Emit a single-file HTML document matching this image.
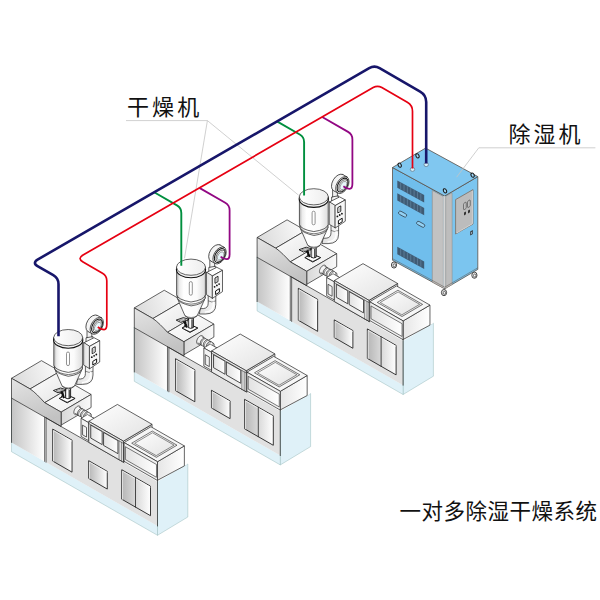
<!DOCTYPE html>
<html lang="zh-CN"><head><meta charset="utf-8"><title>一对多除湿干燥系统</title>
<style>
html,body{margin:0;padding:0;background:#fff;}
body{width:600px;height:600px;overflow:hidden;position:relative;font-family:"Liberation Sans","Noto Sans CJK SC",sans-serif;}
svg{position:absolute;left:0;top:0;display:block;}
.lbl{position:absolute;white-space:nowrap;color:#111;line-height:1;}
</style></head><body>
<svg width="600" height="600" viewBox="0 0 600 600">
<defs>
<linearGradient id="gTop" x1="0" y1="0" x2="1" y2="1"><stop offset="0" stop-color="#ffffff"/><stop offset="1" stop-color="#e2e2e2"/></linearGradient>
<linearGradient id="gTop2" x1="0" y1="0" x2="1" y2="1"><stop offset="0" stop-color="#ffffff"/><stop offset="1" stop-color="#ececec"/></linearGradient>
<linearGradient id="gSide" x1="0" y1="0" x2="1" y2="0"><stop offset="0" stop-color="#d8d8d8"/><stop offset="1" stop-color="#fafafa"/></linearGradient>
<linearGradient id="gSide2" x1="0" y1="0" x2="1" y2="0"><stop offset="0" stop-color="#e6e6e6"/><stop offset="1" stop-color="#ffffff"/></linearGradient>
<linearGradient id="gPanel" x1="0" y1="0" x2="1" y2="0"><stop offset="0" stop-color="#c4c4c4"/><stop offset="1" stop-color="#ffffff"/></linearGradient>
<linearGradient id="gBand" x1="0" y1="0" x2="0.35" y2="1"><stop offset="0" stop-color="#e4e4e4"/><stop offset="1" stop-color="#c2c2c2"/></linearGradient>
<linearGradient id="gWin" x1="0" y1="0" x2="1" y2="0"><stop offset="0" stop-color="#b6b6b6"/><stop offset="1" stop-color="#ffffff"/></linearGradient>
<linearGradient id="gWin2" x1="0" y1="0" x2="1" y2="0"><stop offset="0" stop-color="#e2e2e2"/><stop offset="1" stop-color="#ffffff"/></linearGradient>
<linearGradient id="gBody" gradientUnits="userSpaceOnUse" x1="53.8" y1="0" x2="82.6" y2="0"><stop offset="0" stop-color="#b4b4b4"/><stop offset="0.1" stop-color="#ececec"/><stop offset="0.25" stop-color="#ffffff"/><stop offset="0.7" stop-color="#fbfbfb"/><stop offset="1" stop-color="#dcdcdc"/></linearGradient>
<linearGradient id="gLid" x1="0" y1="0" x2="1" y2="0"><stop offset="0" stop-color="#ffffff"/><stop offset="1" stop-color="#ededed"/></linearGradient>
<linearGradient id="gTube" x1="0" y1="0" x2="1" y2="0"><stop offset="0" stop-color="#aaa"/><stop offset="0.4" stop-color="#fff"/><stop offset="1" stop-color="#ccc"/></linearGradient>
<linearGradient id="gPipe" x1="0" y1="0" x2="1" y2="0"><stop offset="0" stop-color="#e0e0e0"/><stop offset="1" stop-color="#f8f8f8"/></linearGradient>
<linearGradient id="gBoxL" x1="0" y1="0" x2="1" y2="0"><stop offset="0" stop-color="#e2e2e2"/><stop offset="1" stop-color="#f4f4f4"/></linearGradient>
<linearGradient id="gBar" x1="0" y1="0" x2="0.5" y2="1"><stop offset="0" stop-color="#ffffff"/><stop offset="1" stop-color="#cfcfcf"/></linearGradient>
<linearGradient id="gTopL" x1="0" y1="0.6" x2="1" y2="0.4"><stop offset="0" stop-color="#dadada"/><stop offset="1" stop-color="#fbfbfb"/></linearGradient>
</defs>

<g><polygon points="403.11,339.51 433.4,323.2 433.4,376.2 403.11,394.51" fill="#dff1f8" stroke="#9bb" stroke-width="0.5" stroke-linejoin="round" />
<polygon points="304.99,284.72 334.96,267.08 433.08,323.26 403.11,340.91" fill="#fff" stroke="none" stroke-width="0.7" stroke-linejoin="round" />
<polygon points="257.1,237.5 287.06,219.85 305.68,230.52 275.72,248.16" fill="url(#gTopL)" stroke="#222" stroke-width="0.7" stroke-linejoin="round" />
<polygon points="275.72,248.16 305.68,230.52 320.23,244.25 290.27,261.89" fill="url(#gTop)" stroke="#222" stroke-width="0.7" stroke-linejoin="round" />
<polygon points="290.27,261.89 320.23,244.25 336.69,253.67 306.72,271.32" fill="url(#gTop2)" stroke="#222" stroke-width="0.7" stroke-linejoin="round" />
<polygon points="306.72,271.32 336.69,253.67 336.69,266.67 306.72,284.32" fill="url(#gSide)" stroke="#222" stroke-width="0.7" stroke-linejoin="round" />
<polygon points="326.21,267.54 326.12,266.72 325.87,266.04 325.47,265.54 324.94,265.24 324.3,265.15 323.58,265.28 322.83,265.63 322.08,266.17 321.37,266.88 320.73,267.72 320.19,268.65 319.79,269.63 319.54,270.6 319.45,271.52 319.54,272.34 319.79,273.01 320.19,273.52 320.73,273.82 321.37,273.91 322.08,273.77 322.83,273.43 323.58,272.89 324.3,272.18 324.94,271.34 325.47,270.41 325.87,269.43 326.12,268.46" fill="#f6f6f6" stroke="#222" stroke-width="0.7" stroke-linejoin="round" />
<polygon points="330.75,275.61 350.58,286.97 352.07,284.72 332.24,273.36" fill="#eee" stroke="none" stroke-width="0.7" stroke-linejoin="round" />
<polyline points="330.75,275.61 350.58,286.97" fill="none" stroke="#222" stroke-width="0.7" stroke-linejoin="round" stroke-linecap="round" />
<polyline points="332.24,273.36 352.07,284.72" fill="none" stroke="#222" stroke-width="0.7" stroke-linejoin="round" stroke-linecap="round" />
<polygon points="352.28,285.28 352.25,285.05 352.18,284.86 352.07,284.72 351.92,284.63 351.74,284.61 351.54,284.65 351.32,284.74 351.11,284.9 350.91,285.1 350.73,285.33 350.58,285.6 350.47,285.87 350.39,286.15 350.37,286.41 350.39,286.64 350.47,286.83 350.58,286.97 350.73,287.05 350.91,287.08 351.11,287.04 351.32,286.94 351.54,286.79 351.74,286.59 351.92,286.35 352.07,286.09 352.18,285.82 352.25,285.54" fill="#eee" stroke="#222" stroke-width="0.7" stroke-linejoin="round" />
<polygon points="320.8,272.6 332.4,279.24 336.47,273.11 324.86,266.46" fill="url(#gBar)" stroke="none" stroke-width="0.7" stroke-linejoin="round" />
<polyline points="320.8,272.6 332.4,279.24" fill="none" stroke="#222" stroke-width="0.6" stroke-linejoin="round" stroke-linecap="round" />
<polyline points="324.86,266.46 336.47,273.11" fill="none" stroke="#222" stroke-width="0.6" stroke-linejoin="round" stroke-linecap="round" />
<polygon points="337.03,274.64 336.97,274.01 336.78,273.49 336.47,273.11 336.06,272.87 335.56,272.81 335.01,272.91 334.44,273.17 333.86,273.59 333.31,274.14 332.82,274.78 332.4,275.5 332.1,276.25 331.9,277 331.84,277.7 331.9,278.33 332.1,278.85 332.4,279.24 332.82,279.47 333.31,279.54 333.86,279.44 334.44,279.17 335.01,278.76 335.56,278.21 336.06,277.57 336.47,276.85 336.78,276.1 336.97,275.35" fill="url(#gBar)" stroke="#222" stroke-width="0.6" stroke-linejoin="round" />
<polygon points="328.76,269.66 328.69,268.98 328.48,268.41 328.15,267.99 327.7,267.74 327.17,267.67 326.58,267.78 325.95,268.06 325.32,268.51 324.73,269.11 324.19,269.81 323.75,270.58 323.41,271.4 323.21,272.21 323.13,272.97 323.21,273.65 323.41,274.22 323.75,274.64 324.19,274.89 324.73,274.96 325.32,274.85 325.95,274.56 326.58,274.11 327.17,273.52 327.7,272.82 328.15,272.04 328.48,271.23 328.69,270.42" fill="#e9e9e9" stroke="#111" stroke-width="0.7" stroke-linejoin="round" />
<polygon points="329.89,270.3 329.82,269.62 329.61,269.06 329.28,268.64 328.83,268.38 328.3,268.31 327.7,268.42 327.07,268.71 326.45,269.16 325.85,269.75 325.32,270.45 324.87,271.23 324.54,272.04 324.33,272.85 324.26,273.62 324.33,274.3 324.54,274.86 324.87,275.28 325.32,275.53 325.85,275.61 326.45,275.5 327.07,275.21 327.7,274.76 328.3,274.17 328.83,273.47 329.28,272.69 329.61,271.88 329.82,271.07" fill="#fafafa" stroke="#222" stroke-width="0.5" stroke-linejoin="round" />
<polygon points="331.71,271.34 331.64,270.66 331.43,270.1 331.09,269.68 330.65,269.43 330.11,269.35 329.52,269.46 328.89,269.75 328.27,270.2 327.67,270.79 327.14,271.49 326.69,272.27 326.36,273.08 326.15,273.89 326.08,274.66 326.15,275.34 326.36,275.9 326.69,276.32 327.14,276.57 327.67,276.65 328.27,276.54 328.89,276.25 329.52,275.8 330.11,275.21 330.65,274.51 331.09,273.73 331.43,272.92 331.64,272.11" fill="#e9e9e9" stroke="#111" stroke-width="0.7" stroke-linejoin="round" />
<polygon points="332.83,271.99 332.76,271.31 332.56,270.74 332.22,270.32 331.77,270.07 331.24,270 330.65,270.11 330.02,270.4 329.39,270.85 328.8,271.44 328.26,272.14 327.82,272.91 327.48,273.73 327.28,274.54 327.2,275.3 327.28,275.98 327.48,276.55 327.82,276.97 328.26,277.22 328.8,277.29 329.39,277.18 330.02,276.9 330.65,276.44 331.24,275.85 331.77,275.15 332.22,274.38 332.56,273.56 332.76,272.75" fill="#fafafa" stroke="#222" stroke-width="0.5" stroke-linejoin="round" />
<polygon points="334.65,273.03 334.58,272.35 334.37,271.78 334.04,271.36 333.59,271.11 333.06,271.04 332.46,271.15 331.84,271.44 331.21,271.89 330.62,272.48 330.08,273.18 329.64,273.96 329.3,274.77 329.09,275.58 329.02,276.34 329.09,277.03 329.3,277.59 329.64,278.01 330.08,278.26 330.62,278.33 331.21,278.22 331.84,277.94 332.46,277.49 333.06,276.9 333.59,276.19 334.04,275.42 334.37,274.6 334.58,273.79" fill="#e9e9e9" stroke="#111" stroke-width="0.7" stroke-linejoin="round" />
<polygon points="335.78,273.67 335.71,272.99 335.5,272.43 335.16,272.01 334.72,271.76 334.19,271.68 333.59,271.79 332.96,272.08 332.34,272.53 331.74,273.12 331.21,273.82 330.76,274.6 330.43,275.41 330.22,276.22 330.15,276.99 330.22,277.67 330.43,278.23 330.76,278.65 331.21,278.91 331.74,278.98 332.34,278.87 332.96,278.58 333.59,278.13 334.19,277.54 334.72,276.84 335.16,276.06 335.5,275.25 335.71,274.44" fill="#fafafa" stroke="#222" stroke-width="0.5" stroke-linejoin="round" />
<polygon points="257.1,301.6 403.11,385.21 403.11,394.51 257.1,310.9" fill="#dff1f8" stroke="none" stroke-width="0.7" stroke-linejoin="round" />
<polygon points="291.65,277.09 403.11,340.91 403.11,385.21 291.65,321.39" fill="#e1e1e1" stroke="none" stroke-width="0.7" stroke-linejoin="round" />
<polygon points="257.1,257.3 290.27,276.29 290.27,320.59 257.1,301.6" fill="url(#gPanel)" stroke="none" stroke-width="0.7" stroke-linejoin="round" />
<polygon points="257.1,237.5 275.72,248.16 279.36,250.92 282.99,254.24 286.63,257.92 290.27,261.89 306.72,271.32 306.72,285.72 257.1,257.3" fill="url(#gBand)" stroke="#222" stroke-width="0.7" stroke-linejoin="round" />
<polyline points="257.1,257.3 257.1,310.9 403.11,394.51 403.11,339.51" fill="none" stroke="#9bb" stroke-width="0.5" stroke-linejoin="round" stroke-linecap="round" />
<polyline points="257.1,257.3 257.1,301.6" fill="none" stroke="#222" stroke-width="0.7" stroke-linejoin="round" stroke-linecap="round" />
<polyline points="290.27,276.29 290.27,320.59" fill="none" stroke="#222" stroke-width="0.7" stroke-linejoin="round" stroke-linecap="round" />
<polyline points="291.65,277.09 291.65,321.39" fill="none" stroke="#222" stroke-width="0.7" stroke-linejoin="round" stroke-linecap="round" />
<polyline points="291.65,277.09 369.68,321.77" fill="none" stroke="#222" stroke-width="0.7" stroke-linejoin="round" stroke-linecap="round" />
<polyline points="403.11,339.51 403.11,385.21" fill="none" stroke="#222" stroke-width="0.7" stroke-linejoin="round" stroke-linecap="round" />
<polygon points="298.32,288.3 317.64,299.36 317.64,331.36 298.32,320.3" fill="url(#gWin)" stroke="#222" stroke-width="0.9" stroke-linejoin="round" />
<polyline points="299.1,320.35 299.1,289.75 317.29,300.17" fill="none" stroke="#fff" stroke-width="0.7" stroke-linejoin="round" stroke-linecap="round" />
<polygon points="334.26,319.88 352.88,330.55 352.88,348.25 334.26,337.58" fill="url(#gWin)" stroke="#222" stroke-width="0.9" stroke-linejoin="round" />
<polyline points="335.04,337.63 335.04,321.33 352.54,331.35" fill="none" stroke="#fff" stroke-width="0.7" stroke-linejoin="round" stroke-linecap="round" />
<polygon points="367.35,328.93 396.1,345.39 396.1,374.89 367.35,358.43" fill="url(#gWin)" stroke="#222" stroke-width="0.9" stroke-linejoin="round" />
<polyline points="368.12,358.47 368.12,330.37 395.75,346.19" fill="none" stroke="#fff" stroke-width="0.7" stroke-linejoin="round" stroke-linecap="round" />
<polyline points="381.11,366.31 381.11,336.81" fill="none" stroke="#222" stroke-width="0.8" stroke-linejoin="round" stroke-linecap="round" />
<polygon points="326.64,277.52 333.05,273.75 340.76,278.16 334.35,281.93" fill="#fff" stroke="#222" stroke-width="0.6" stroke-linejoin="round" />
<polygon points="326.64,277.52 334.35,281.93 334.35,300.03 326.64,295.62" fill="#f2f2f2" stroke="#222" stroke-width="0.7" stroke-linejoin="round" />
<polygon points="328.03,284.31 332.1,286.64 332.1,296.24 328.03,293.91" fill="url(#gWin2)" stroke="#222" stroke-width="0.7" stroke-linejoin="round" />
<polygon points="368.99,300.37 397.66,283.49 397.66,304.49 368.99,321.37" fill="#eee" stroke="#222" stroke-width="0.7" stroke-linejoin="round" />
<polygon points="334.35,280.53 363.01,263.65 397.66,283.49 368.99,300.37" fill="url(#gTop)" stroke="#222" stroke-width="0.7" stroke-linejoin="round" />
<polygon points="334.35,280.53 368.99,300.37 368.99,321.37 334.35,301.53" fill="#ececec" stroke="#222" stroke-width="0.7" stroke-linejoin="round" />
<polyline points="334.35,282.73 368.99,302.57" fill="none" stroke="#222" stroke-width="0.5" stroke-linejoin="round" stroke-linecap="round" />
<polygon points="336.34,284.27 347.77,290.82 347.77,303.82 336.34,297.27" fill="url(#gWin2)" stroke="#222" stroke-width="0.8" stroke-linejoin="round" />
<polygon points="349.16,291.61 363.53,299.85 363.53,312.85 349.16,304.61" fill="url(#gWin2)" stroke="#222" stroke-width="0.8" stroke-linejoin="round" />
<polyline points="364.66,318.89 364.66,300.09" fill="none" stroke="#222" stroke-width="0.5" stroke-linejoin="round" stroke-linecap="round" />
<polyline points="367,320.23 367,301.43" fill="none" stroke="#222" stroke-width="0.5" stroke-linejoin="round" stroke-linecap="round" />
<polygon points="403.11,320.91 429.96,305.1 429.96,325.1 403.11,339.51" fill="url(#gSide2)" stroke="#222" stroke-width="0.7" stroke-linejoin="round" />
<polygon points="369.68,301.77 396.53,285.96 429.96,305.1 403.11,320.91" fill="#f6f6f6" stroke="#222" stroke-width="0.7" stroke-linejoin="round" />
<polygon points="377.3,302.41 397.92,290.27 422.6,304.4 401.99,316.54" fill="url(#gTop)" stroke="#222" stroke-width="0.6" stroke-linejoin="round" />
<polygon points="380.25,302.49 398.09,291.98 419.65,304.33 401.81,314.83" fill="none" stroke="#222" stroke-width="0.5" stroke-linejoin="round" />
<polygon points="369.68,301.77 403.11,320.91 403.11,339.71 369.68,320.57" fill="#f0f0f0" stroke="#222" stroke-width="0.7" stroke-linejoin="round" />
<polygon points="370.98,305.91 402.07,323.71 402.07,336.51 370.98,318.71" fill="url(#gWin2)" stroke="#222" stroke-width="0.6" stroke-linejoin="round" /></g>
<g transform="translate(245.6,-140.8)"><polygon points="59.2,398.4 66.8,394.8 75.1,398.4 67.2,402.8" fill="#fff" stroke="#111" stroke-width="1" stroke-linejoin="round"/>
<polyline points="60.8,399.3 67.2,402.2 73.6,399.2" fill="none" stroke="#333" stroke-width="0.7"/>
<polygon points="59.9,391.7 62.6,391 65.2,397.4 63.2,398.4 61.6,394.6" fill="#111"/>
<path d="M61.2,397.2 L64.4,391.4" stroke="#111" stroke-width="0.9" fill="none"/>
<polygon points="63.4,391.4 64.4,391 65.3,396.6 64.6,397" fill="#fff"/>
<path d="M65.4,388.5 L65.4,398 Q68,399.6 70.6,398 L70.6,388.5 Z" fill="url(#gTube)" stroke="#111" stroke-width="0.9" stroke-linejoin="round"/>
<path d="M69.2,389.8 L69.2,398.4" stroke="#111" stroke-width="1" fill="none"/>
<polygon points="53.4,390.5 60.6,388 66.2,389.8 58,392.8" fill="#fff" stroke="#111" stroke-width="0.9" stroke-linejoin="round"/>
<polygon points="56.0,390.7 60.6,389.1 63.2,390 58.4,391.7" fill="#ddd" stroke="#222" stroke-width="0.4"/>
<path d="M93,360 L93,375 Q93,384.4 82.5,384.4 L76.5,384.4 L77.5,379 L80.5,379 Q85.4,378.6 85.4,373.5 L85.4,360 Z" fill="url(#gPipe)" stroke="#222" stroke-width="0.7" stroke-linejoin="round" stroke-linecap="round"/>
<path d="M85.4,371.2 Q89,373.6 93,371.2" fill="none" stroke="#222" stroke-width="0.5"/>
<path d="M90.5,371.8 L90.5,376 Q90,382 82,382.6" fill="none" stroke="#fff" stroke-width="1.2"/>
<path d="M54.6,368 L56,372.2 L62.2,386.2 Q68.3,391.6 74.4,386.2 L80.4,373 L82.4,368 Z" fill="url(#gBody)" stroke="#222" stroke-width="0.7" stroke-linejoin="round" stroke-linecap="round"/>
<path d="M62.2,386.2 Q68.3,389.6 74.4,386.2" fill="none" stroke="#222" stroke-width="0.5"/>
<path d="M54.2,365.5 L54.6,369 Q56,373.5 68.3,376.3 Q80.8,374.5 82.2,369 L82.5,365.5 Z" fill="url(#gBody)" stroke="#222" stroke-width="0.7" stroke-linejoin="round" stroke-linecap="round"/>
<path d="M55.4,371.2 Q59,375.3 68.3,376.2 Q78,375.3 81.4,371.2" fill="none" stroke="#222" stroke-width="0.6" transform="translate(0,-1.6)"/>
<path d="M53.8,338 L53.8,365.2 Q55,370.2 68.2,372.4 Q81.6,370.4 82.6,365.2 L82.6,338 Z" fill="url(#gBody)" stroke="#222" stroke-width="0.7" stroke-linejoin="round" stroke-linecap="round"/>
<ellipse cx="68.2" cy="339.9" rx="14.6" ry="8.3" fill="#f4f4f4" stroke="#111" stroke-width="1.1"/>
<ellipse cx="68.2" cy="337.6" rx="14.5" ry="8.1" fill="url(#gLid)" stroke="#222" stroke-width="0.7"/>
<rect x="66.5" y="352" width="3" height="13.6" rx="1.5" fill="#fff" stroke="#777" stroke-width="0.8"/>
<path d="M87,331 L87,343 L91.8,343 L91.8,333 Z" fill="#f2f2f2" stroke="#222" stroke-width="0.7" stroke-linejoin="round" stroke-linecap="round"/>
<path d="M86,338.2 L86,343 L93,343 L93,337 Z" fill="#f6f6f6" stroke="#222" stroke-width="0.7" stroke-linejoin="round" stroke-linecap="round"/>
<polygon points="84,342.7 94,337.7 99.7,340.7 89.7,346.3" fill="#fff" stroke="#222" stroke-width="0.7" stroke-linejoin="round" stroke-linecap="round"/>
<polygon points="84,342.7 89.7,346.3 89.7,368.7 84,365.3" fill="url(#gBoxL)" stroke="#222" stroke-width="0.7" stroke-linejoin="round" stroke-linecap="round"/>
<polygon points="89.7,346.3 99.7,340.7 99.7,362 89.7,368.7" fill="#f7f7f7" stroke="#222" stroke-width="0.7" stroke-linejoin="round" stroke-linecap="round"/>
<polygon points="92.2,348.4 95.2,346.7 95.2,352 92.2,353.7" fill="#fff" stroke="#111" stroke-width="0.9"/>
<polygon points="93.2,349.1 94.3,348.5 94.3,352.4 93.2,353" fill="#bbb"/>
<circle cx="91.8" cy="357.2" r="0.9" fill="#111"/><circle cx="94.1" cy="355.8" r="0.9" fill="#111"/><circle cx="96.3" cy="354.5" r="0.9" fill="#111"/>
<polygon points="92.8,361.4 96.6,359 96.6,362.6 92.8,365" fill="#fff" stroke="#111" stroke-width="1"/>
<ellipse cx="92.6" cy="323.4" rx="9.3" ry="5.6" fill="#f4f4f4" stroke="#222" stroke-width="0.7" stroke-linejoin="round" stroke-linecap="round" transform="rotate(-60 92.6 323.4)"/>
<polygon points="97.25,315.35 101.45,317.75 92.15,333.85 87.95,331.45" fill="#f4f4f4" stroke="none"/>
<ellipse cx="96.8" cy="325.8" rx="9.3" ry="5.6" fill="#f8f8f8" stroke="#222" stroke-width="0.7" stroke-linejoin="round" stroke-linecap="round" transform="rotate(-60 96.8 325.8)"/>
<path d="M97.25,315.35 L101.45,317.75 M87.95,331.45 L92.15,333.85" stroke="#222" stroke-width="0.7" fill="none"/>
<ellipse cx="97.0" cy="325.9" rx="7.6" ry="4.5" fill="#eee" stroke="#111" stroke-width="1" transform="rotate(-60 97.0 325.9)"/>
<ellipse cx="97.6" cy="326.2" rx="6.2" ry="3.6" fill="#fff" stroke="#222" stroke-width="0.6" transform="rotate(-60 97.6 326.2)"/>
<ellipse cx="97.8" cy="326.4" rx="4.6" ry="2.6" fill="#e8f6fa" stroke="#555" stroke-width="0.5" transform="rotate(-60 97.8 326.4)"/></g>
<g><polygon points="280.31,409.91 310.6,393.6 310.6,446.6 280.31,464.91" fill="#dff1f8" stroke="#9bb" stroke-width="0.5" stroke-linejoin="round" />
<polygon points="182.19,355.12 212.16,337.48 310.28,393.66 280.31,411.31" fill="#fff" stroke="none" stroke-width="0.7" stroke-linejoin="round" />
<polygon points="134.3,307.9 164.26,290.25 182.88,300.92 152.92,318.56" fill="url(#gTopL)" stroke="#222" stroke-width="0.7" stroke-linejoin="round" />
<polygon points="152.92,318.56 182.88,300.92 197.43,314.65 167.47,332.29" fill="url(#gTop)" stroke="#222" stroke-width="0.7" stroke-linejoin="round" />
<polygon points="167.47,332.29 197.43,314.65 213.89,324.07 183.92,341.72" fill="url(#gTop2)" stroke="#222" stroke-width="0.7" stroke-linejoin="round" />
<polygon points="183.92,341.72 213.89,324.07 213.89,337.07 183.92,354.72" fill="url(#gSide)" stroke="#222" stroke-width="0.7" stroke-linejoin="round" />
<polygon points="203.41,337.94 203.32,337.12 203.07,336.44 202.67,335.94 202.14,335.64 201.5,335.55 200.78,335.68 200.03,336.03 199.28,336.57 198.57,337.28 197.93,338.12 197.39,339.05 196.99,340.03 196.74,341 196.65,341.92 196.74,342.74 196.99,343.41 197.39,343.92 197.93,344.22 198.57,344.31 199.28,344.17 200.03,343.83 200.78,343.29 201.5,342.58 202.14,341.74 202.67,340.81 203.07,339.83 203.32,338.86" fill="#f6f6f6" stroke="#222" stroke-width="0.7" stroke-linejoin="round" />
<polygon points="207.95,346.01 227.78,357.37 229.27,355.12 209.44,343.76" fill="#eee" stroke="none" stroke-width="0.7" stroke-linejoin="round" />
<polyline points="207.95,346.01 227.78,357.37" fill="none" stroke="#222" stroke-width="0.7" stroke-linejoin="round" stroke-linecap="round" />
<polyline points="209.44,343.76 229.27,355.12" fill="none" stroke="#222" stroke-width="0.7" stroke-linejoin="round" stroke-linecap="round" />
<polygon points="229.48,355.68 229.45,355.45 229.38,355.26 229.27,355.12 229.12,355.03 228.94,355.01 228.74,355.05 228.52,355.14 228.31,355.3 228.11,355.5 227.93,355.73 227.78,356 227.67,356.27 227.59,356.55 227.57,356.81 227.59,357.04 227.67,357.23 227.78,357.37 227.93,357.45 228.11,357.48 228.31,357.44 228.52,357.34 228.74,357.19 228.94,356.99 229.12,356.75 229.27,356.49 229.38,356.22 229.45,355.94" fill="#eee" stroke="#222" stroke-width="0.7" stroke-linejoin="round" />
<polygon points="198,343 209.6,349.64 213.67,343.51 202.06,336.86" fill="url(#gBar)" stroke="none" stroke-width="0.7" stroke-linejoin="round" />
<polyline points="198,343 209.6,349.64" fill="none" stroke="#222" stroke-width="0.6" stroke-linejoin="round" stroke-linecap="round" />
<polyline points="202.06,336.86 213.67,343.51" fill="none" stroke="#222" stroke-width="0.6" stroke-linejoin="round" stroke-linecap="round" />
<polygon points="214.23,345.04 214.17,344.41 213.98,343.89 213.67,343.51 213.26,343.27 212.76,343.21 212.21,343.31 211.64,343.57 211.06,343.99 210.51,344.54 210.02,345.18 209.6,345.9 209.3,346.65 209.1,347.4 209.04,348.1 209.1,348.73 209.3,349.25 209.6,349.64 210.02,349.87 210.51,349.94 211.06,349.84 211.64,349.57 212.21,349.16 212.76,348.61 213.26,347.97 213.67,347.25 213.98,346.5 214.17,345.75" fill="url(#gBar)" stroke="#222" stroke-width="0.6" stroke-linejoin="round" />
<polygon points="205.96,340.06 205.89,339.38 205.68,338.81 205.35,338.39 204.9,338.14 204.37,338.07 203.78,338.18 203.15,338.46 202.52,338.91 201.93,339.51 201.39,340.21 200.95,340.98 200.61,341.8 200.41,342.61 200.33,343.37 200.41,344.05 200.61,344.62 200.95,345.04 201.39,345.29 201.93,345.36 202.52,345.25 203.15,344.96 203.78,344.51 204.37,343.92 204.9,343.22 205.35,342.44 205.68,341.63 205.89,340.82" fill="#e9e9e9" stroke="#111" stroke-width="0.7" stroke-linejoin="round" />
<polygon points="207.09,340.7 207.02,340.02 206.81,339.46 206.48,339.04 206.03,338.78 205.5,338.71 204.9,338.82 204.27,339.11 203.65,339.56 203.05,340.15 202.52,340.85 202.07,341.63 201.74,342.44 201.53,343.25 201.46,344.02 201.53,344.7 201.74,345.26 202.07,345.68 202.52,345.93 203.05,346.01 203.65,345.9 204.27,345.61 204.9,345.16 205.5,344.57 206.03,343.87 206.48,343.09 206.81,342.28 207.02,341.47" fill="#fafafa" stroke="#222" stroke-width="0.5" stroke-linejoin="round" />
<polygon points="208.91,341.74 208.84,341.06 208.63,340.5 208.29,340.08 207.85,339.83 207.31,339.75 206.72,339.86 206.09,340.15 205.47,340.6 204.87,341.19 204.34,341.89 203.89,342.67 203.56,343.48 203.35,344.29 203.28,345.06 203.35,345.74 203.56,346.3 203.89,346.72 204.34,346.97 204.87,347.05 205.47,346.94 206.09,346.65 206.72,346.2 207.31,345.61 207.85,344.91 208.29,344.13 208.63,343.32 208.84,342.51" fill="#e9e9e9" stroke="#111" stroke-width="0.7" stroke-linejoin="round" />
<polygon points="210.03,342.39 209.96,341.71 209.76,341.14 209.42,340.72 208.97,340.47 208.44,340.4 207.85,340.51 207.22,340.8 206.59,341.25 206,341.84 205.46,342.54 205.02,343.31 204.68,344.13 204.48,344.94 204.4,345.7 204.48,346.38 204.68,346.95 205.02,347.37 205.46,347.62 206,347.69 206.59,347.58 207.22,347.3 207.85,346.84 208.44,346.25 208.97,345.55 209.42,344.78 209.76,343.96 209.96,343.15" fill="#fafafa" stroke="#222" stroke-width="0.5" stroke-linejoin="round" />
<polygon points="211.85,343.43 211.78,342.75 211.57,342.18 211.24,341.76 210.79,341.51 210.26,341.44 209.66,341.55 209.04,341.84 208.41,342.29 207.82,342.88 207.28,343.58 206.84,344.36 206.5,345.17 206.29,345.98 206.22,346.74 206.29,347.43 206.5,347.99 206.84,348.41 207.28,348.66 207.82,348.73 208.41,348.62 209.04,348.34 209.66,347.89 210.26,347.3 210.79,346.59 211.24,345.82 211.57,345 211.78,344.19" fill="#e9e9e9" stroke="#111" stroke-width="0.7" stroke-linejoin="round" />
<polygon points="212.98,344.07 212.91,343.39 212.7,342.83 212.36,342.41 211.92,342.16 211.39,342.08 210.79,342.19 210.16,342.48 209.54,342.93 208.94,343.52 208.41,344.22 207.96,345 207.63,345.81 207.42,346.62 207.35,347.39 207.42,348.07 207.63,348.63 207.96,349.05 208.41,349.31 208.94,349.38 209.54,349.27 210.16,348.98 210.79,348.53 211.39,347.94 211.92,347.24 212.36,346.46 212.7,345.65 212.91,344.84" fill="#fafafa" stroke="#222" stroke-width="0.5" stroke-linejoin="round" />
<polygon points="134.3,372 280.31,455.61 280.31,464.91 134.3,381.3" fill="#dff1f8" stroke="none" stroke-width="0.7" stroke-linejoin="round" />
<polygon points="168.85,347.49 280.31,411.31 280.31,455.61 168.85,391.79" fill="#e1e1e1" stroke="none" stroke-width="0.7" stroke-linejoin="round" />
<polygon points="134.3,327.7 167.47,346.69 167.47,390.99 134.3,372" fill="url(#gPanel)" stroke="none" stroke-width="0.7" stroke-linejoin="round" />
<polygon points="134.3,307.9 152.92,318.56 156.56,321.32 160.19,324.64 163.83,328.32 167.47,332.29 183.92,341.72 183.92,356.12 134.3,327.7" fill="url(#gBand)" stroke="#222" stroke-width="0.7" stroke-linejoin="round" />
<polyline points="134.3,327.7 134.3,381.3 280.31,464.91 280.31,409.91" fill="none" stroke="#9bb" stroke-width="0.5" stroke-linejoin="round" stroke-linecap="round" />
<polyline points="134.3,327.7 134.3,372" fill="none" stroke="#222" stroke-width="0.7" stroke-linejoin="round" stroke-linecap="round" />
<polyline points="167.47,346.69 167.47,390.99" fill="none" stroke="#222" stroke-width="0.7" stroke-linejoin="round" stroke-linecap="round" />
<polyline points="168.85,347.49 168.85,391.79" fill="none" stroke="#222" stroke-width="0.7" stroke-linejoin="round" stroke-linecap="round" />
<polyline points="168.85,347.49 246.88,392.17" fill="none" stroke="#222" stroke-width="0.7" stroke-linejoin="round" stroke-linecap="round" />
<polyline points="280.31,409.91 280.31,455.61" fill="none" stroke="#222" stroke-width="0.7" stroke-linejoin="round" stroke-linecap="round" />
<polygon points="175.52,358.7 194.84,369.76 194.84,401.76 175.52,390.7" fill="url(#gWin)" stroke="#222" stroke-width="0.9" stroke-linejoin="round" />
<polyline points="176.3,390.75 176.3,360.15 194.49,370.57" fill="none" stroke="#fff" stroke-width="0.7" stroke-linejoin="round" stroke-linecap="round" />
<polygon points="211.46,390.28 230.08,400.95 230.08,418.65 211.46,407.98" fill="url(#gWin)" stroke="#222" stroke-width="0.9" stroke-linejoin="round" />
<polyline points="212.24,408.03 212.24,391.73 229.74,401.75" fill="none" stroke="#fff" stroke-width="0.7" stroke-linejoin="round" stroke-linecap="round" />
<polygon points="244.55,399.33 273.3,415.79 273.3,445.29 244.55,428.83" fill="url(#gWin)" stroke="#222" stroke-width="0.9" stroke-linejoin="round" />
<polyline points="245.32,428.87 245.32,400.77 272.95,416.59" fill="none" stroke="#fff" stroke-width="0.7" stroke-linejoin="round" stroke-linecap="round" />
<polyline points="258.31,436.71 258.31,407.21" fill="none" stroke="#222" stroke-width="0.8" stroke-linejoin="round" stroke-linecap="round" />
<polygon points="203.84,347.92 210.25,344.15 217.96,348.56 211.55,352.33" fill="#fff" stroke="#222" stroke-width="0.6" stroke-linejoin="round" />
<polygon points="203.84,347.92 211.55,352.33 211.55,370.43 203.84,366.02" fill="#f2f2f2" stroke="#222" stroke-width="0.7" stroke-linejoin="round" />
<polygon points="205.23,354.71 209.3,357.04 209.3,366.64 205.23,364.31" fill="url(#gWin2)" stroke="#222" stroke-width="0.7" stroke-linejoin="round" />
<polygon points="246.19,370.77 274.86,353.89 274.86,374.89 246.19,391.77" fill="#eee" stroke="#222" stroke-width="0.7" stroke-linejoin="round" />
<polygon points="211.55,350.93 240.21,334.05 274.86,353.89 246.19,370.77" fill="url(#gTop)" stroke="#222" stroke-width="0.7" stroke-linejoin="round" />
<polygon points="211.55,350.93 246.19,370.77 246.19,391.77 211.55,371.93" fill="#ececec" stroke="#222" stroke-width="0.7" stroke-linejoin="round" />
<polyline points="211.55,353.13 246.19,372.97" fill="none" stroke="#222" stroke-width="0.5" stroke-linejoin="round" stroke-linecap="round" />
<polygon points="213.54,354.67 224.97,361.22 224.97,374.22 213.54,367.67" fill="url(#gWin2)" stroke="#222" stroke-width="0.8" stroke-linejoin="round" />
<polygon points="226.36,362.01 240.73,370.25 240.73,383.25 226.36,375.01" fill="url(#gWin2)" stroke="#222" stroke-width="0.8" stroke-linejoin="round" />
<polyline points="241.86,389.29 241.86,370.49" fill="none" stroke="#222" stroke-width="0.5" stroke-linejoin="round" stroke-linecap="round" />
<polyline points="244.2,390.63 244.2,371.83" fill="none" stroke="#222" stroke-width="0.5" stroke-linejoin="round" stroke-linecap="round" />
<polygon points="280.31,391.31 307.16,375.5 307.16,395.5 280.31,409.91" fill="url(#gSide2)" stroke="#222" stroke-width="0.7" stroke-linejoin="round" />
<polygon points="246.88,372.17 273.73,356.36 307.16,375.5 280.31,391.31" fill="#f6f6f6" stroke="#222" stroke-width="0.7" stroke-linejoin="round" />
<polygon points="254.5,372.81 275.12,360.67 299.8,374.8 279.19,386.94" fill="url(#gTop)" stroke="#222" stroke-width="0.6" stroke-linejoin="round" />
<polygon points="257.45,372.89 275.29,362.38 296.85,374.73 279.01,385.23" fill="none" stroke="#222" stroke-width="0.5" stroke-linejoin="round" />
<polygon points="246.88,372.17 280.31,391.31 280.31,410.11 246.88,390.97" fill="#f0f0f0" stroke="#222" stroke-width="0.7" stroke-linejoin="round" />
<polygon points="248.18,376.31 279.27,394.11 279.27,406.91 248.18,389.11" fill="url(#gWin2)" stroke="#222" stroke-width="0.6" stroke-linejoin="round" /></g>
<g transform="translate(122.8,-70.4)"><polygon points="59.2,398.4 66.8,394.8 75.1,398.4 67.2,402.8" fill="#fff" stroke="#111" stroke-width="1" stroke-linejoin="round"/>
<polyline points="60.8,399.3 67.2,402.2 73.6,399.2" fill="none" stroke="#333" stroke-width="0.7"/>
<polygon points="59.9,391.7 62.6,391 65.2,397.4 63.2,398.4 61.6,394.6" fill="#111"/>
<path d="M61.2,397.2 L64.4,391.4" stroke="#111" stroke-width="0.9" fill="none"/>
<polygon points="63.4,391.4 64.4,391 65.3,396.6 64.6,397" fill="#fff"/>
<path d="M65.4,388.5 L65.4,398 Q68,399.6 70.6,398 L70.6,388.5 Z" fill="url(#gTube)" stroke="#111" stroke-width="0.9" stroke-linejoin="round"/>
<path d="M69.2,389.8 L69.2,398.4" stroke="#111" stroke-width="1" fill="none"/>
<polygon points="53.4,390.5 60.6,388 66.2,389.8 58,392.8" fill="#fff" stroke="#111" stroke-width="0.9" stroke-linejoin="round"/>
<polygon points="56.0,390.7 60.6,389.1 63.2,390 58.4,391.7" fill="#ddd" stroke="#222" stroke-width="0.4"/>
<path d="M93,360 L93,375 Q93,384.4 82.5,384.4 L76.5,384.4 L77.5,379 L80.5,379 Q85.4,378.6 85.4,373.5 L85.4,360 Z" fill="url(#gPipe)" stroke="#222" stroke-width="0.7" stroke-linejoin="round" stroke-linecap="round"/>
<path d="M85.4,371.2 Q89,373.6 93,371.2" fill="none" stroke="#222" stroke-width="0.5"/>
<path d="M90.5,371.8 L90.5,376 Q90,382 82,382.6" fill="none" stroke="#fff" stroke-width="1.2"/>
<path d="M54.6,368 L56,372.2 L62.2,386.2 Q68.3,391.6 74.4,386.2 L80.4,373 L82.4,368 Z" fill="url(#gBody)" stroke="#222" stroke-width="0.7" stroke-linejoin="round" stroke-linecap="round"/>
<path d="M62.2,386.2 Q68.3,389.6 74.4,386.2" fill="none" stroke="#222" stroke-width="0.5"/>
<path d="M54.2,365.5 L54.6,369 Q56,373.5 68.3,376.3 Q80.8,374.5 82.2,369 L82.5,365.5 Z" fill="url(#gBody)" stroke="#222" stroke-width="0.7" stroke-linejoin="round" stroke-linecap="round"/>
<path d="M55.4,371.2 Q59,375.3 68.3,376.2 Q78,375.3 81.4,371.2" fill="none" stroke="#222" stroke-width="0.6" transform="translate(0,-1.6)"/>
<path d="M53.8,338 L53.8,365.2 Q55,370.2 68.2,372.4 Q81.6,370.4 82.6,365.2 L82.6,338 Z" fill="url(#gBody)" stroke="#222" stroke-width="0.7" stroke-linejoin="round" stroke-linecap="round"/>
<ellipse cx="68.2" cy="339.9" rx="14.6" ry="8.3" fill="#f4f4f4" stroke="#111" stroke-width="1.1"/>
<ellipse cx="68.2" cy="337.6" rx="14.5" ry="8.1" fill="url(#gLid)" stroke="#222" stroke-width="0.7"/>
<rect x="66.5" y="352" width="3" height="13.6" rx="1.5" fill="#fff" stroke="#777" stroke-width="0.8"/>
<path d="M87,331 L87,343 L91.8,343 L91.8,333 Z" fill="#f2f2f2" stroke="#222" stroke-width="0.7" stroke-linejoin="round" stroke-linecap="round"/>
<path d="M86,338.2 L86,343 L93,343 L93,337 Z" fill="#f6f6f6" stroke="#222" stroke-width="0.7" stroke-linejoin="round" stroke-linecap="round"/>
<polygon points="84,342.7 94,337.7 99.7,340.7 89.7,346.3" fill="#fff" stroke="#222" stroke-width="0.7" stroke-linejoin="round" stroke-linecap="round"/>
<polygon points="84,342.7 89.7,346.3 89.7,368.7 84,365.3" fill="url(#gBoxL)" stroke="#222" stroke-width="0.7" stroke-linejoin="round" stroke-linecap="round"/>
<polygon points="89.7,346.3 99.7,340.7 99.7,362 89.7,368.7" fill="#f7f7f7" stroke="#222" stroke-width="0.7" stroke-linejoin="round" stroke-linecap="round"/>
<polygon points="92.2,348.4 95.2,346.7 95.2,352 92.2,353.7" fill="#fff" stroke="#111" stroke-width="0.9"/>
<polygon points="93.2,349.1 94.3,348.5 94.3,352.4 93.2,353" fill="#bbb"/>
<circle cx="91.8" cy="357.2" r="0.9" fill="#111"/><circle cx="94.1" cy="355.8" r="0.9" fill="#111"/><circle cx="96.3" cy="354.5" r="0.9" fill="#111"/>
<polygon points="92.8,361.4 96.6,359 96.6,362.6 92.8,365" fill="#fff" stroke="#111" stroke-width="1"/>
<ellipse cx="92.6" cy="323.4" rx="9.3" ry="5.6" fill="#f4f4f4" stroke="#222" stroke-width="0.7" stroke-linejoin="round" stroke-linecap="round" transform="rotate(-60 92.6 323.4)"/>
<polygon points="97.25,315.35 101.45,317.75 92.15,333.85 87.95,331.45" fill="#f4f4f4" stroke="none"/>
<ellipse cx="96.8" cy="325.8" rx="9.3" ry="5.6" fill="#f8f8f8" stroke="#222" stroke-width="0.7" stroke-linejoin="round" stroke-linecap="round" transform="rotate(-60 96.8 325.8)"/>
<path d="M97.25,315.35 L101.45,317.75 M87.95,331.45 L92.15,333.85" stroke="#222" stroke-width="0.7" fill="none"/>
<ellipse cx="97.0" cy="325.9" rx="7.6" ry="4.5" fill="#eee" stroke="#111" stroke-width="1" transform="rotate(-60 97.0 325.9)"/>
<ellipse cx="97.6" cy="326.2" rx="6.2" ry="3.6" fill="#fff" stroke="#222" stroke-width="0.6" transform="rotate(-60 97.6 326.2)"/>
<ellipse cx="97.8" cy="326.4" rx="4.6" ry="2.6" fill="#e8f6fa" stroke="#555" stroke-width="0.5" transform="rotate(-60 97.8 326.4)"/></g>
<g><polygon points="157.51,480.31 187.8,464 187.8,517 157.51,535.31" fill="#dff1f8" stroke="#9bb" stroke-width="0.5" stroke-linejoin="round" />
<polygon points="59.39,425.52 89.36,407.88 187.48,464.06 157.51,481.71" fill="#fff" stroke="none" stroke-width="0.7" stroke-linejoin="round" />
<polygon points="11.5,378.3 41.46,360.65 60.08,371.32 30.12,388.96" fill="url(#gTopL)" stroke="#222" stroke-width="0.7" stroke-linejoin="round" />
<polygon points="30.12,388.96 60.08,371.32 74.63,385.05 44.67,402.69" fill="url(#gTop)" stroke="#222" stroke-width="0.7" stroke-linejoin="round" />
<polygon points="44.67,402.69 74.63,385.05 91.09,394.47 61.12,412.12" fill="url(#gTop2)" stroke="#222" stroke-width="0.7" stroke-linejoin="round" />
<polygon points="61.12,412.12 91.09,394.47 91.09,407.47 61.12,425.12" fill="url(#gSide)" stroke="#222" stroke-width="0.7" stroke-linejoin="round" />
<polygon points="80.61,408.34 80.52,407.52 80.27,406.84 79.87,406.34 79.34,406.04 78.7,405.95 77.98,406.08 77.23,406.43 76.48,406.97 75.77,407.68 75.13,408.52 74.59,409.45 74.19,410.43 73.94,411.4 73.85,412.32 73.94,413.14 74.19,413.81 74.59,414.32 75.13,414.62 75.77,414.71 76.48,414.57 77.23,414.23 77.98,413.69 78.7,412.98 79.34,412.14 79.87,411.21 80.27,410.23 80.52,409.26" fill="#f6f6f6" stroke="#222" stroke-width="0.7" stroke-linejoin="round" />
<polygon points="85.15,416.41 104.98,427.77 106.47,425.52 86.64,414.16" fill="#eee" stroke="none" stroke-width="0.7" stroke-linejoin="round" />
<polyline points="85.15,416.41 104.98,427.77" fill="none" stroke="#222" stroke-width="0.7" stroke-linejoin="round" stroke-linecap="round" />
<polyline points="86.64,414.16 106.47,425.52" fill="none" stroke="#222" stroke-width="0.7" stroke-linejoin="round" stroke-linecap="round" />
<polygon points="106.68,426.08 106.65,425.85 106.58,425.66 106.47,425.52 106.32,425.43 106.14,425.41 105.94,425.45 105.72,425.54 105.51,425.7 105.31,425.9 105.13,426.13 104.98,426.4 104.87,426.67 104.79,426.95 104.77,427.21 104.79,427.44 104.87,427.63 104.98,427.77 105.13,427.85 105.31,427.88 105.51,427.84 105.72,427.74 105.94,427.59 106.14,427.39 106.32,427.15 106.47,426.89 106.58,426.62 106.65,426.34" fill="#eee" stroke="#222" stroke-width="0.7" stroke-linejoin="round" />
<polygon points="75.2,413.4 86.8,420.04 90.87,413.91 79.26,407.26" fill="url(#gBar)" stroke="none" stroke-width="0.7" stroke-linejoin="round" />
<polyline points="75.2,413.4 86.8,420.04" fill="none" stroke="#222" stroke-width="0.6" stroke-linejoin="round" stroke-linecap="round" />
<polyline points="79.26,407.26 90.87,413.91" fill="none" stroke="#222" stroke-width="0.6" stroke-linejoin="round" stroke-linecap="round" />
<polygon points="91.43,415.44 91.37,414.81 91.18,414.29 90.87,413.91 90.46,413.67 89.96,413.61 89.41,413.71 88.84,413.97 88.26,414.39 87.71,414.94 87.22,415.58 86.8,416.3 86.5,417.05 86.3,417.8 86.24,418.5 86.3,419.13 86.5,419.65 86.8,420.04 87.22,420.27 87.71,420.34 88.26,420.24 88.84,419.97 89.41,419.56 89.96,419.01 90.46,418.37 90.87,417.65 91.18,416.9 91.37,416.15" fill="url(#gBar)" stroke="#222" stroke-width="0.6" stroke-linejoin="round" />
<polygon points="83.16,410.46 83.09,409.78 82.88,409.21 82.55,408.79 82.1,408.54 81.57,408.47 80.98,408.58 80.35,408.86 79.72,409.31 79.13,409.91 78.59,410.61 78.15,411.38 77.81,412.2 77.61,413.01 77.53,413.77 77.61,414.45 77.81,415.02 78.15,415.44 78.59,415.69 79.13,415.76 79.72,415.65 80.35,415.36 80.98,414.91 81.57,414.32 82.1,413.62 82.55,412.84 82.88,412.03 83.09,411.22" fill="#e9e9e9" stroke="#111" stroke-width="0.7" stroke-linejoin="round" />
<polygon points="84.29,411.1 84.22,410.42 84.01,409.86 83.68,409.44 83.23,409.18 82.7,409.11 82.1,409.22 81.47,409.51 80.85,409.96 80.25,410.55 79.72,411.25 79.27,412.03 78.94,412.84 78.73,413.65 78.66,414.42 78.73,415.1 78.94,415.66 79.27,416.08 79.72,416.33 80.25,416.41 80.85,416.3 81.47,416.01 82.1,415.56 82.7,414.97 83.23,414.27 83.68,413.49 84.01,412.68 84.22,411.87" fill="#fafafa" stroke="#222" stroke-width="0.5" stroke-linejoin="round" />
<polygon points="86.11,412.14 86.04,411.46 85.83,410.9 85.49,410.48 85.05,410.23 84.51,410.15 83.92,410.26 83.29,410.55 82.67,411 82.07,411.59 81.54,412.29 81.09,413.07 80.76,413.88 80.55,414.69 80.48,415.46 80.55,416.14 80.76,416.7 81.09,417.12 81.54,417.37 82.07,417.45 82.67,417.34 83.29,417.05 83.92,416.6 84.51,416.01 85.05,415.31 85.49,414.53 85.83,413.72 86.04,412.91" fill="#e9e9e9" stroke="#111" stroke-width="0.7" stroke-linejoin="round" />
<polygon points="87.23,412.79 87.16,412.11 86.96,411.54 86.62,411.12 86.17,410.87 85.64,410.8 85.05,410.91 84.42,411.2 83.79,411.65 83.2,412.24 82.66,412.94 82.22,413.71 81.88,414.53 81.68,415.34 81.6,416.1 81.68,416.78 81.88,417.35 82.22,417.77 82.66,418.02 83.2,418.09 83.79,417.98 84.42,417.7 85.05,417.24 85.64,416.65 86.17,415.95 86.62,415.18 86.96,414.36 87.16,413.55" fill="#fafafa" stroke="#222" stroke-width="0.5" stroke-linejoin="round" />
<polygon points="89.05,413.83 88.98,413.15 88.77,412.58 88.44,412.16 87.99,411.91 87.46,411.84 86.86,411.95 86.24,412.24 85.61,412.69 85.02,413.28 84.48,413.98 84.04,414.76 83.7,415.57 83.49,416.38 83.42,417.14 83.49,417.83 83.7,418.39 84.04,418.81 84.48,419.06 85.02,419.13 85.61,419.02 86.24,418.74 86.86,418.29 87.46,417.7 87.99,416.99 88.44,416.22 88.77,415.4 88.98,414.59" fill="#e9e9e9" stroke="#111" stroke-width="0.7" stroke-linejoin="round" />
<polygon points="90.18,414.47 90.11,413.79 89.9,413.23 89.56,412.81 89.12,412.56 88.59,412.48 87.99,412.59 87.36,412.88 86.74,413.33 86.14,413.92 85.61,414.62 85.16,415.4 84.83,416.21 84.62,417.02 84.55,417.79 84.62,418.47 84.83,419.03 85.16,419.45 85.61,419.71 86.14,419.78 86.74,419.67 87.36,419.38 87.99,418.93 88.59,418.34 89.12,417.64 89.56,416.86 89.9,416.05 90.11,415.24" fill="#fafafa" stroke="#222" stroke-width="0.5" stroke-linejoin="round" />
<polygon points="11.5,442.4 157.51,526.01 157.51,535.31 11.5,451.7" fill="#dff1f8" stroke="none" stroke-width="0.7" stroke-linejoin="round" />
<polygon points="46.05,417.89 157.51,481.71 157.51,526.01 46.05,462.19" fill="#e1e1e1" stroke="none" stroke-width="0.7" stroke-linejoin="round" />
<polygon points="11.5,398.1 44.67,417.09 44.67,461.39 11.5,442.4" fill="url(#gPanel)" stroke="none" stroke-width="0.7" stroke-linejoin="round" />
<polygon points="11.5,378.3 30.12,388.96 33.76,391.72 37.39,395.04 41.03,398.72 44.67,402.69 61.12,412.12 61.12,426.52 11.5,398.1" fill="url(#gBand)" stroke="#222" stroke-width="0.7" stroke-linejoin="round" />
<polyline points="11.5,398.1 11.5,451.7 157.51,535.31 157.51,480.31" fill="none" stroke="#9bb" stroke-width="0.5" stroke-linejoin="round" stroke-linecap="round" />
<polyline points="11.5,398.1 11.5,442.4" fill="none" stroke="#222" stroke-width="0.7" stroke-linejoin="round" stroke-linecap="round" />
<polyline points="44.67,417.09 44.67,461.39" fill="none" stroke="#222" stroke-width="0.7" stroke-linejoin="round" stroke-linecap="round" />
<polyline points="46.05,417.89 46.05,462.19" fill="none" stroke="#222" stroke-width="0.7" stroke-linejoin="round" stroke-linecap="round" />
<polyline points="46.05,417.89 124.08,462.57" fill="none" stroke="#222" stroke-width="0.7" stroke-linejoin="round" stroke-linecap="round" />
<polyline points="157.51,480.31 157.51,526.01" fill="none" stroke="#222" stroke-width="0.7" stroke-linejoin="round" stroke-linecap="round" />
<polygon points="52.72,429.1 72.04,440.16 72.04,472.16 52.72,461.1" fill="url(#gWin)" stroke="#222" stroke-width="0.9" stroke-linejoin="round" />
<polyline points="53.5,461.15 53.5,430.55 71.69,440.97" fill="none" stroke="#fff" stroke-width="0.7" stroke-linejoin="round" stroke-linecap="round" />
<polygon points="88.66,460.68 107.28,471.35 107.28,489.05 88.66,478.38" fill="url(#gWin)" stroke="#222" stroke-width="0.9" stroke-linejoin="round" />
<polyline points="89.44,478.43 89.44,462.13 106.94,472.15" fill="none" stroke="#fff" stroke-width="0.7" stroke-linejoin="round" stroke-linecap="round" />
<polygon points="121.75,469.73 150.5,486.19 150.5,515.69 121.75,499.23" fill="url(#gWin)" stroke="#222" stroke-width="0.9" stroke-linejoin="round" />
<polyline points="122.52,499.27 122.52,471.17 150.15,486.99" fill="none" stroke="#fff" stroke-width="0.7" stroke-linejoin="round" stroke-linecap="round" />
<polyline points="135.51,507.11 135.51,477.61" fill="none" stroke="#222" stroke-width="0.8" stroke-linejoin="round" stroke-linecap="round" />
<polygon points="81.04,418.32 87.45,414.55 95.16,418.96 88.75,422.73" fill="#fff" stroke="#222" stroke-width="0.6" stroke-linejoin="round" />
<polygon points="81.04,418.32 88.75,422.73 88.75,440.83 81.04,436.42" fill="#f2f2f2" stroke="#222" stroke-width="0.7" stroke-linejoin="round" />
<polygon points="82.43,425.11 86.5,427.44 86.5,437.04 82.43,434.71" fill="url(#gWin2)" stroke="#222" stroke-width="0.7" stroke-linejoin="round" />
<polygon points="123.39,441.17 152.06,424.29 152.06,445.29 123.39,462.17" fill="#eee" stroke="#222" stroke-width="0.7" stroke-linejoin="round" />
<polygon points="88.75,421.33 117.41,404.45 152.06,424.29 123.39,441.17" fill="url(#gTop)" stroke="#222" stroke-width="0.7" stroke-linejoin="round" />
<polygon points="88.75,421.33 123.39,441.17 123.39,462.17 88.75,442.33" fill="#ececec" stroke="#222" stroke-width="0.7" stroke-linejoin="round" />
<polyline points="88.75,423.53 123.39,443.37" fill="none" stroke="#222" stroke-width="0.5" stroke-linejoin="round" stroke-linecap="round" />
<polygon points="90.74,425.07 102.17,431.62 102.17,444.62 90.74,438.07" fill="url(#gWin2)" stroke="#222" stroke-width="0.8" stroke-linejoin="round" />
<polygon points="103.56,432.41 117.93,440.65 117.93,453.65 103.56,445.41" fill="url(#gWin2)" stroke="#222" stroke-width="0.8" stroke-linejoin="round" />
<polyline points="119.06,459.69 119.06,440.89" fill="none" stroke="#222" stroke-width="0.5" stroke-linejoin="round" stroke-linecap="round" />
<polyline points="121.4,461.03 121.4,442.23" fill="none" stroke="#222" stroke-width="0.5" stroke-linejoin="round" stroke-linecap="round" />
<polygon points="157.51,461.71 184.36,445.9 184.36,465.9 157.51,480.31" fill="url(#gSide2)" stroke="#222" stroke-width="0.7" stroke-linejoin="round" />
<polygon points="124.08,442.57 150.93,426.76 184.36,445.9 157.51,461.71" fill="#f6f6f6" stroke="#222" stroke-width="0.7" stroke-linejoin="round" />
<polygon points="131.7,443.21 152.32,431.07 177,445.2 156.39,457.34" fill="url(#gTop)" stroke="#222" stroke-width="0.6" stroke-linejoin="round" />
<polygon points="134.65,443.29 152.49,432.78 174.05,445.13 156.21,455.63" fill="none" stroke="#222" stroke-width="0.5" stroke-linejoin="round" />
<polygon points="124.08,442.57 157.51,461.71 157.51,480.51 124.08,461.37" fill="#f0f0f0" stroke="#222" stroke-width="0.7" stroke-linejoin="round" />
<polygon points="125.38,446.71 156.47,464.51 156.47,477.31 125.38,459.51" fill="url(#gWin2)" stroke="#222" stroke-width="0.6" stroke-linejoin="round" /></g>
<g transform="translate(0,-0)"><polygon points="59.2,398.4 66.8,394.8 75.1,398.4 67.2,402.8" fill="#fff" stroke="#111" stroke-width="1" stroke-linejoin="round"/>
<polyline points="60.8,399.3 67.2,402.2 73.6,399.2" fill="none" stroke="#333" stroke-width="0.7"/>
<polygon points="59.9,391.7 62.6,391 65.2,397.4 63.2,398.4 61.6,394.6" fill="#111"/>
<path d="M61.2,397.2 L64.4,391.4" stroke="#111" stroke-width="0.9" fill="none"/>
<polygon points="63.4,391.4 64.4,391 65.3,396.6 64.6,397" fill="#fff"/>
<path d="M65.4,388.5 L65.4,398 Q68,399.6 70.6,398 L70.6,388.5 Z" fill="url(#gTube)" stroke="#111" stroke-width="0.9" stroke-linejoin="round"/>
<path d="M69.2,389.8 L69.2,398.4" stroke="#111" stroke-width="1" fill="none"/>
<polygon points="53.4,390.5 60.6,388 66.2,389.8 58,392.8" fill="#fff" stroke="#111" stroke-width="0.9" stroke-linejoin="round"/>
<polygon points="56.0,390.7 60.6,389.1 63.2,390 58.4,391.7" fill="#ddd" stroke="#222" stroke-width="0.4"/>
<path d="M93,360 L93,375 Q93,384.4 82.5,384.4 L76.5,384.4 L77.5,379 L80.5,379 Q85.4,378.6 85.4,373.5 L85.4,360 Z" fill="url(#gPipe)" stroke="#222" stroke-width="0.7" stroke-linejoin="round" stroke-linecap="round"/>
<path d="M85.4,371.2 Q89,373.6 93,371.2" fill="none" stroke="#222" stroke-width="0.5"/>
<path d="M90.5,371.8 L90.5,376 Q90,382 82,382.6" fill="none" stroke="#fff" stroke-width="1.2"/>
<path d="M54.6,368 L56,372.2 L62.2,386.2 Q68.3,391.6 74.4,386.2 L80.4,373 L82.4,368 Z" fill="url(#gBody)" stroke="#222" stroke-width="0.7" stroke-linejoin="round" stroke-linecap="round"/>
<path d="M62.2,386.2 Q68.3,389.6 74.4,386.2" fill="none" stroke="#222" stroke-width="0.5"/>
<path d="M54.2,365.5 L54.6,369 Q56,373.5 68.3,376.3 Q80.8,374.5 82.2,369 L82.5,365.5 Z" fill="url(#gBody)" stroke="#222" stroke-width="0.7" stroke-linejoin="round" stroke-linecap="round"/>
<path d="M55.4,371.2 Q59,375.3 68.3,376.2 Q78,375.3 81.4,371.2" fill="none" stroke="#222" stroke-width="0.6" transform="translate(0,-1.6)"/>
<path d="M53.8,338 L53.8,365.2 Q55,370.2 68.2,372.4 Q81.6,370.4 82.6,365.2 L82.6,338 Z" fill="url(#gBody)" stroke="#222" stroke-width="0.7" stroke-linejoin="round" stroke-linecap="round"/>
<ellipse cx="68.2" cy="339.9" rx="14.6" ry="8.3" fill="#f4f4f4" stroke="#111" stroke-width="1.1"/>
<ellipse cx="68.2" cy="337.6" rx="14.5" ry="8.1" fill="url(#gLid)" stroke="#222" stroke-width="0.7"/>
<rect x="66.5" y="352" width="3" height="13.6" rx="1.5" fill="#fff" stroke="#777" stroke-width="0.8"/>
<path d="M87,331 L87,343 L91.8,343 L91.8,333 Z" fill="#f2f2f2" stroke="#222" stroke-width="0.7" stroke-linejoin="round" stroke-linecap="round"/>
<path d="M86,338.2 L86,343 L93,343 L93,337 Z" fill="#f6f6f6" stroke="#222" stroke-width="0.7" stroke-linejoin="round" stroke-linecap="round"/>
<polygon points="84,342.7 94,337.7 99.7,340.7 89.7,346.3" fill="#fff" stroke="#222" stroke-width="0.7" stroke-linejoin="round" stroke-linecap="round"/>
<polygon points="84,342.7 89.7,346.3 89.7,368.7 84,365.3" fill="url(#gBoxL)" stroke="#222" stroke-width="0.7" stroke-linejoin="round" stroke-linecap="round"/>
<polygon points="89.7,346.3 99.7,340.7 99.7,362 89.7,368.7" fill="#f7f7f7" stroke="#222" stroke-width="0.7" stroke-linejoin="round" stroke-linecap="round"/>
<polygon points="92.2,348.4 95.2,346.7 95.2,352 92.2,353.7" fill="#fff" stroke="#111" stroke-width="0.9"/>
<polygon points="93.2,349.1 94.3,348.5 94.3,352.4 93.2,353" fill="#bbb"/>
<circle cx="91.8" cy="357.2" r="0.9" fill="#111"/><circle cx="94.1" cy="355.8" r="0.9" fill="#111"/><circle cx="96.3" cy="354.5" r="0.9" fill="#111"/>
<polygon points="92.8,361.4 96.6,359 96.6,362.6 92.8,365" fill="#fff" stroke="#111" stroke-width="1"/>
<ellipse cx="92.6" cy="323.4" rx="9.3" ry="5.6" fill="#f4f4f4" stroke="#222" stroke-width="0.7" stroke-linejoin="round" stroke-linecap="round" transform="rotate(-60 92.6 323.4)"/>
<polygon points="97.25,315.35 101.45,317.75 92.15,333.85 87.95,331.45" fill="#f4f4f4" stroke="none"/>
<ellipse cx="96.8" cy="325.8" rx="9.3" ry="5.6" fill="#f8f8f8" stroke="#222" stroke-width="0.7" stroke-linejoin="round" stroke-linecap="round" transform="rotate(-60 96.8 325.8)"/>
<path d="M97.25,315.35 L101.45,317.75 M87.95,331.45 L92.15,333.85" stroke="#222" stroke-width="0.7" fill="none"/>
<ellipse cx="97.0" cy="325.9" rx="7.6" ry="4.5" fill="#eee" stroke="#111" stroke-width="1" transform="rotate(-60 97.0 325.9)"/>
<ellipse cx="97.6" cy="326.2" rx="6.2" ry="3.6" fill="#fff" stroke="#222" stroke-width="0.6" transform="rotate(-60 97.6 326.2)"/>
<ellipse cx="97.8" cy="326.4" rx="4.6" ry="2.6" fill="#e8f6fa" stroke="#555" stroke-width="0.5" transform="rotate(-60 97.8 326.4)"/></g>
<g><ellipse cx="394" cy="265" rx="2.6" ry="3.1" fill="#e8e8e8" stroke="#222" stroke-width="0.8"/>
<ellipse cx="394.3" cy="265.3" rx="1.2" ry="1.5" fill="#fff" stroke="#222" stroke-width="0.6"/>
<ellipse cx="474.4" cy="275.2" rx="2.6" ry="3.1" fill="#e8e8e8" stroke="#222" stroke-width="0.8"/>
<ellipse cx="474.7" cy="275.5" rx="1.2" ry="1.5" fill="#fff" stroke="#222" stroke-width="0.6"/>
<polygon points="392.5,167.5 444.7,196 444.7,288.8 392.5,260.3" fill="#70beec" stroke="#5b5148" stroke-width="0.8" stroke-linejoin="round"/>
<polygon points="444.7,196 477.8,176.6 477.8,269.4 444.7,288.8" fill="#7bc5ef" stroke="#5b5148" stroke-width="0.8" stroke-linejoin="round"/>
<polygon points="392.5,167.5 425.6,148.1 477.8,176.6 444.7,196" fill="#80c7f0" stroke="#5b5148" stroke-width="0.8" stroke-linejoin="round"/>
<polygon points="432.28,190.42 443.39,196.49 443.39,288.09 432.28,282.02" fill="#c2c2c2" stroke="#8a7d72" stroke-width="0.5"/>
<polygon points="443.39,196.09 445.69,196.22 445.69,288.22 443.39,288.09" fill="#d4d4d4"/>
<polygon points="445.69,196.42 452.15,192.63 452.15,284.44 445.69,288.22" fill="#bdbdbd" stroke="#8a7d72" stroke-width="0.4"/>
<polyline points="392.5,258.7 444.7,287.2 477.8,267.8" fill="none" stroke="#5b5148" stroke-width="0.5"/>
<polygon points="397.3,180.42 424.19,195.1 424.19,202.5 397.3,187.82" fill="#3f5b74"/>
<line x1="400.66" y1="182.56" x2="400.66" y2="189.36" stroke="#6f93b0" stroke-width="0.55"/>
<line x1="404.02" y1="184.39" x2="404.02" y2="191.19" stroke="#6f93b0" stroke-width="0.55"/>
<line x1="407.38" y1="186.23" x2="407.38" y2="193.03" stroke="#6f93b0" stroke-width="0.55"/>
<line x1="410.74" y1="188.06" x2="410.74" y2="194.86" stroke="#6f93b0" stroke-width="0.55"/>
<line x1="414.1" y1="189.9" x2="414.1" y2="196.7" stroke="#6f93b0" stroke-width="0.55"/>
<line x1="417.46" y1="191.73" x2="417.46" y2="198.53" stroke="#6f93b0" stroke-width="0.55"/>
<line x1="420.83" y1="193.56" x2="420.83" y2="200.36" stroke="#6f93b0" stroke-width="0.55"/>
<polygon points="397.3,193.22 424.19,207.9 424.19,215.3 397.3,200.62" fill="#3f5b74"/>
<line x1="400.66" y1="195.36" x2="400.66" y2="202.16" stroke="#6f93b0" stroke-width="0.55"/>
<line x1="404.02" y1="197.19" x2="404.02" y2="203.99" stroke="#6f93b0" stroke-width="0.55"/>
<line x1="407.38" y1="199.03" x2="407.38" y2="205.83" stroke="#6f93b0" stroke-width="0.55"/>
<line x1="410.74" y1="200.86" x2="410.74" y2="207.66" stroke="#6f93b0" stroke-width="0.55"/>
<line x1="414.1" y1="202.7" x2="414.1" y2="209.5" stroke="#6f93b0" stroke-width="0.55"/>
<line x1="417.46" y1="204.53" x2="417.46" y2="211.33" stroke="#6f93b0" stroke-width="0.55"/>
<line x1="420.83" y1="206.36" x2="420.83" y2="213.16" stroke="#6f93b0" stroke-width="0.55"/>
<polygon points="397.3,246.82 424.19,261.5 424.19,268.9 397.3,254.22" fill="#3f5b74"/>
<line x1="400.66" y1="248.96" x2="400.66" y2="255.76" stroke="#6f93b0" stroke-width="0.55"/>
<line x1="404.02" y1="250.79" x2="404.02" y2="257.59" stroke="#6f93b0" stroke-width="0.55"/>
<line x1="407.38" y1="252.63" x2="407.38" y2="259.43" stroke="#6f93b0" stroke-width="0.55"/>
<line x1="410.74" y1="254.46" x2="410.74" y2="261.26" stroke="#6f93b0" stroke-width="0.55"/>
<line x1="414.1" y1="256.3" x2="414.1" y2="263.1" stroke="#6f93b0" stroke-width="0.55"/>
<line x1="417.46" y1="258.13" x2="417.46" y2="264.93" stroke="#6f93b0" stroke-width="0.55"/>
<line x1="420.83" y1="259.96" x2="420.83" y2="266.76" stroke="#6f93b0" stroke-width="0.55"/>
<rect x="398.2" y="212.4" width="8.8" height="3.4" rx="1.7" fill="#93d1f3" stroke="#2b3945" stroke-width="0.7" transform="rotate(28.63 402.6 214.1)"/>
<rect x="416.3" y="222.6" width="8.8" height="3.4" rx="1.7" fill="#93d1f3" stroke="#2b3945" stroke-width="0.7" transform="rotate(28.63 420.7 224.3)"/>
<polygon points="455.6,199.6 473,189.6 473,224 455.6,234" fill="#bcbcbc" stroke="#7a6c60" stroke-width="0.8"/>
<polyline points="456.6,233 472.4,223.8 472.4,190.6" fill="none" stroke="#dedede" stroke-width="0.8"/>
<rect x="463.6" y="203.4" width="2.6" height="6.6" rx="0.9" fill="#c9c9c9" stroke="#555" stroke-width="0.7" transform="skewY(-30)" transform-origin="463.6 203.4"/>
<rect x="467.6" y="201.2" width="2.6" height="6.6" rx="0.9" fill="#c9c9c9" stroke="#555" stroke-width="0.7" transform="skewY(-30)" transform-origin="467.6 201.2"/>
<rect x="464" y="212.6" width="2" height="2.8" fill="#333" transform="skewY(-30)" transform-origin="464 212.6"/>
<rect x="468" y="210.6" width="2" height="2.8" fill="#333" transform="skewY(-30)" transform-origin="468 210.6"/>
<polygon points="470.2,231.6 472.8,230.1 472.8,234 470.2,235.5" fill="#333"/>
<polygon points="470.9,232.2 472.1,231.5 472.1,233.6 470.9,234.3" fill="#9ab"/>
<ellipse cx="444" cy="292.6" rx="2.6" ry="3.1" fill="#e8e8e8" stroke="#222" stroke-width="0.8"/>
<ellipse cx="444.3" cy="292.9" rx="1.2" ry="1.5" fill="#fff" stroke="#222" stroke-width="0.6"/>
<ellipse cx="399.7" cy="165.2" rx="1.5" ry="2.2" fill="#9fd6f5" stroke="#1a1a1a" stroke-width="1" transform="rotate(-25 399.7 165.2)"/>
<ellipse cx="417.5" cy="155.8" rx="1.5" ry="2.2" fill="#9fd6f5" stroke="#1a1a1a" stroke-width="1" transform="rotate(-25 417.5 155.8)"/>
<ellipse cx="445" cy="190.8" rx="1.5" ry="2.2" fill="#9fd6f5" stroke="#1a1a1a" stroke-width="1" transform="rotate(-25 445 190.8)"/>
<ellipse cx="472.6" cy="175.2" rx="1.5" ry="2.2" fill="#9fd6f5" stroke="#1a1a1a" stroke-width="1" transform="rotate(-25 472.6 175.2)"/>
<ellipse cx="412.5" cy="169.4" rx="2.2" ry="2" fill="#d6effa" stroke="#5d7485" stroke-width="0.7"/>
<ellipse cx="426.2" cy="164.6" rx="2.2" ry="2" fill="#d6effa" stroke="#5d7485" stroke-width="0.7"/></g>
<g><polyline points="126,120.6 207.4,120.6 184.5,258.3" fill="none" stroke="#c4c4c4" stroke-width="0.8"/>
<line x1="207.4" y1="120.6" x2="298.6" y2="195.2" stroke="#c4c4c4" stroke-width="0.8"/>
<polyline points="595.4,147.8 478.8,147.8 456.6,177.2" fill="none" stroke="#c4c4c4" stroke-width="0.8"/></g>
<g><path d="M154.2,192.26 L176.97,205.41 Q181.3,207.91 181.3,212.91 L181.3,265.8" fill="none" stroke="#008f3e" stroke-width="1.9" stroke-linecap="butt" stroke-linejoin="round"/>
<path d="M277,121.36 L299.77,134.51 Q304.1,137.01 304.1,142.01 L304.1,195.4" fill="none" stroke="#008f3e" stroke-width="1.9" stroke-linecap="butt" stroke-linejoin="round"/>
<path d="M199.4,187.87 L225.27,202.8 Q229.6,205.3 229.6,210.3 L229.6,254.2 Q229.6,259.2 226.85,259.2 L226.85,259.2 Q224.1,259.2 222.35,257.9 L220.6,256.6" fill="none" stroke="#920783" stroke-width="1.8" stroke-linecap="butt" stroke-linejoin="round"/>
<path d="M322.2,116.96 L348.07,131.9 Q352.4,134.4 352.4,139.4 L352.4,183.8 Q352.4,188.8 349.65,188.8 L349.65,188.8 Q346.9,188.8 345.15,187.5 L343.4,186.2" fill="none" stroke="#920783" stroke-width="1.8" stroke-linecap="butt" stroke-linejoin="round"/>
<path d="M412.5,168.6 L412.5,111.24 Q412.5,105.24 407.3,102.24 L381.83,87.53 Q377.5,85.03 373.17,87.53 L83.06,255.04 Q77,258.54 83.06,262.04 L102.47,273.25 Q106.8,275.75 106.8,280.75 L106.8,324.6 Q106.8,329.6 104.05,329.6 L104.05,329.6 Q101.3,329.6 99.55,328.3 L97.8,327" fill="none" stroke="#e60012" stroke-width="1.7" stroke-linecap="butt" stroke-linejoin="round"/>
<path d="M426.2,163.6 L426.2,102.03 Q426.2,95.03 420.14,91.53 L379.6,68.12 Q374.4,65.12 369.2,68.12 L37.96,259.38 Q31.9,262.88 37.96,266.38 L53.3,275.24 Q58.5,278.24 58.5,284.24 L58.5,336.2" fill="none" stroke="#17166a" stroke-width="2.6" stroke-linecap="butt" stroke-linejoin="round"/></g>
</svg>
<div class="lbl" style="left:127px;top:97.2px;font-size:22px;letter-spacing:3.1px;">干燥机</div>
<div class="lbl" style="left:508.4px;top:124.2px;font-size:22px;letter-spacing:3.1px;">除湿机</div>
<div class="lbl" style="left:399.6px;top:502px;font-size:21.5px;letter-spacing:0.5px;">一对多除湿干燥系统</div>
</body></html>
